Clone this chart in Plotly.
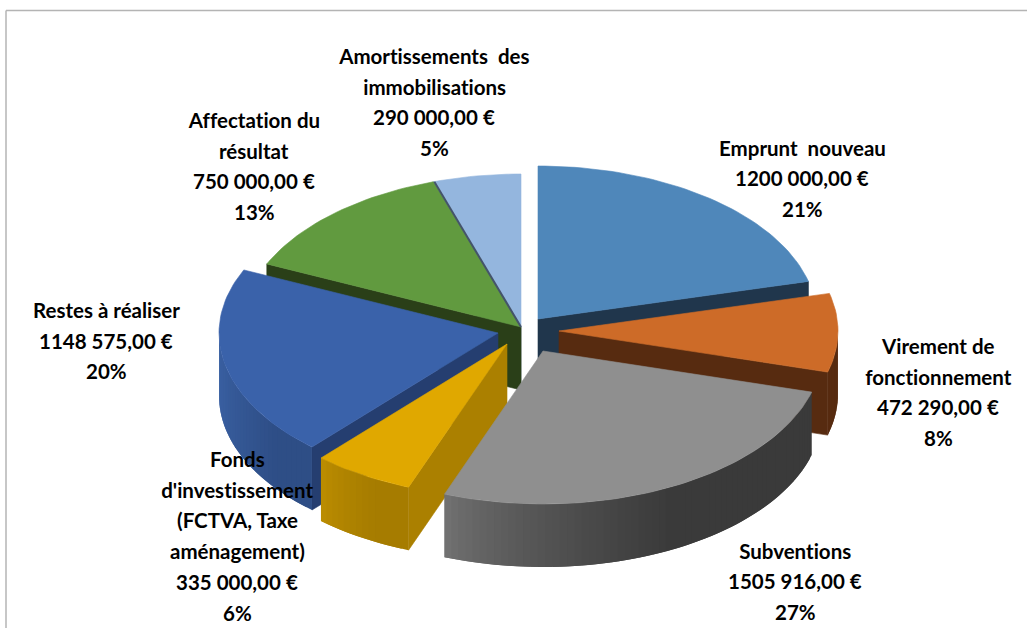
import math
import plotly.graph_objects as go

# ---- data ----
categories = ["Emprunt nouveau", "Virement de fonctionnement", "Subventions",
              "Fonds d'investissement (FCTVA, Taxe aménagement)", "Restes à réaliser",
              "Affectation du résultat", "Amortissements des immobilisations"]
values = [1200000, 472290, 1505916, 335000, 1148575, 750000, 290000]
amount_labels = ["1200 000,00 €", "472 290,00 €", "1505 916,00 €", "335 000,00 €",
                 "1148 575,00 €", "750 000,00 €", "290 000,00 €"]
percent_labels = ["21%", "8%", "27%", "6%", "20%", "13%", "5%"]
name_lines = [["Emprunt  nouveau"], ["Virement de", "fonctionnement"], ["Subventions"],
              ["Fonds", "d'investissement", "(FCTVA, Taxe", "aménagement)"],
              ["Restes à réaliser"], ["Affectation du", "résultat"],
              ["Amortissements  des", "immobilisations"]]

# ---- styling ----
top_colors = ["#4f87ba", "#cd6b28", "#8f8f8f", "#e0a800", "#3a62aa", "#619a3f", "#94b6de"]
wall_colors = ["#20364c", "#572b10", "#3c3c3c", "#ab8000", "#253e70", "#2a3f18", "#44546a"]
rim_left = ["#2f5a80", "#572b10", "#747474", "#bd8e00", "#3a60a2", "#3a5a25", "#6c8cb0"]
rim_right = ["#2f5a80", "#572b10", "#3a3a3a", "#a67c00", "#2e4e86", "#3a5a25", "#6c8cb0"]
apex = [(538, 319), (559, 331), (543, 351), (507, 344), (498, 333), (521, 327), (521, 327)]
label_pos = [(802, 147.5), (938, 346), (795, 550.5), (237, 459), (106, 310), (254, 120), (434, 56)]
draw_order = [6, 5, 0, 1, 4, 3, 2]
RX, RY, DEPTH = 279, 153, 63
LINE_STEP = 30.7
FONT = dict(family="Lato, Carlito, sans-serif", size=20.5, color="#000000")


def hex_mix(a, b, t):
    ca = [int(a[i:i + 2], 16) for i in (1, 3, 5)]
    cb = [int(b[i:i + 2], 16) for i in (1, 3, 5)]
    return "#" + "".join(f"{round(p + (q - p) * t):02x}" for p, q in zip(ca, cb))


def rim_point(c, deg):
    r = math.radians(deg)
    return c[0] + RX * math.sin(r), c[1] - RY * math.cos(r)


def poly(fig, pts, color, edge=0.6):
    fig.add_trace(go.Scatter(
        x=[p[0] for p in pts] + [pts[0][0]], y=[p[1] for p in pts] + [pts[0][1]],
        mode="lines", fill="toself", fillcolor=color,
        line=dict(color=color, width=edge), hoverinfo="skip", showlegend=False))


fig = go.Figure()
total = sum(values)
bounds, acc = [], 0.0
for v in values:
    bounds.append((acc / total * 360, (acc + v) / total * 360))
    acc += v

for i in draw_order:
    c = apex[i]
    start, end = bounds[i]
    n = max(2, int((end - start) / 1.5))
    arc = [rim_point(c, start + (end - start) * k / n) for k in range(n + 1)]
    # radial wall facing the viewer
    if end < 180:
        corner = arc[-1]
        poly(fig, [c, corner, (corner[0], corner[1] + DEPTH), (c[0], c[1] + DEPTH)], wall_colors[i])
    if start > 180:
        corner = arc[0]
        poly(fig, [c, corner, (corner[0], corner[1] + DEPTH), (c[0], c[1] + DEPTH)], wall_colors[i])
    # outer wall (front half only), shaded from left to right
    lo, hi = max(start, 90), min(end, 270)
    if hi > lo:
        m = max(2, int((hi - lo) / 1.5))
        front = [rim_point(c, lo + (hi - lo) * k / m) for k in range(m + 1)]
        xmin, xmax = min(p[0] for p in front), max(p[0] for p in front)
        # strips run right to left on the front; each one overlaps the next to hide seams
        for k in range(m):
            a = front[k]
            b = front[min(k + 2, m)]
            t = ((front[k][0] + front[k + 1][0]) / 2 - xmin) / max(xmax - xmin, 1)
            shade = hex_mix(rim_left[i], rim_right[i], min(1, (t ** 0.7) * 1.4))
            poly(fig, [a, front[k + 1], b, (b[0], b[1] + DEPTH), (front[k + 1][0], front[k + 1][1] + DEPTH),
                       (a[0], a[1] + DEPTH)], shade, edge=0)
    # top face
    poly(fig, [c] + arc, top_colors[i])

# thin dark edge between the two back slices
edge_pt = rim_point(apex[6], bounds[6][0])
fig.add_trace(go.Scatter(x=[edge_pt[0] + 1, apex[6][0]], y=[edge_pt[1], apex[6][1]], mode="lines",
                         line=dict(color="#44546a", width=2), hoverinfo="skip", showlegend=False))

# labels: one annotation per line for the tight line spacing
for i in range(len(categories)):
    lines = name_lines[i] + [amount_labels[i], percent_labels[i]]
    x0, y0 = label_pos[i]
    for k, text in enumerate(lines):
        fig.add_annotation(x=x0, y=y0 + k * LINE_STEP, text=f"<b>{text}</b>", showarrow=False,
                           xanchor="center", yanchor="middle", font=FONT)

# chart frame (top and left sides visible)
fig.add_shape(type="line", x0=6, x1=1027, y0=10.5, y1=10.5, line=dict(color="#b4b4b4", width=1.5))
fig.add_shape(type="line", x0=6, x1=6, y0=10.5, y1=628, line=dict(color="#b4b4b4", width=1.5))

fig.update_layout(
    width=1027, height=628, margin=dict(l=0, r=0, t=0, b=0),
    paper_bgcolor="#ffffff", plot_bgcolor="#ffffff", showlegend=False,
    xaxis=dict(range=[0, 1027], visible=False, fixedrange=True),
    yaxis=dict(range=[628, 0], visible=False, fixedrange=True),
)
page_css = ("document.body.style.margin='0';document.body.style.overflow='hidden';"
            "var s=document.createElement('style');"
            "s.textContent='svg text{font-variant-ligatures:none;font-feature-settings:\"liga\" 0}';"
            "document.head.appendChild(s);")
fig.write_html("out.html", config={"displayModeBar": False}, post_script=page_css)
